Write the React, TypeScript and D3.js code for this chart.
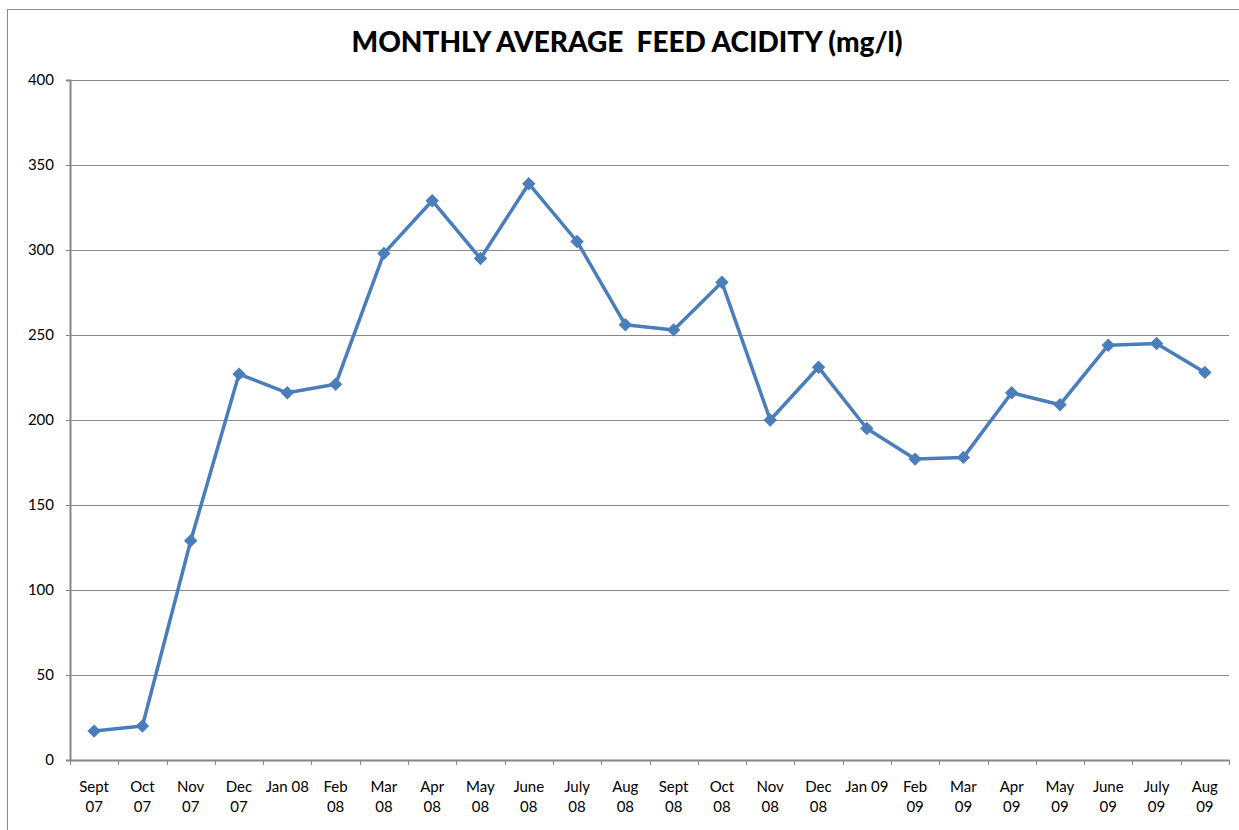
import { useEffect, useRef } from "react";
import * as d3 from "d3";

const W = 1239;
const H = 830;
const marginLeft = 70;
const marginRight = 10;
const marginTop = 80;
const marginBottom = 70;

const months = [
  "Sept 07", "Oct 07", "Nov 07", "Dec 07", "Jan 08", "Feb 08", "Mar 08", "Apr 08",
  "May 08", "June 08", "July 08", "Aug 08", "Sept 08", "Oct 08", "Nov 08", "Dec 08",
  "Jan 09", "Feb 09", "Mar 09", "Apr 09", "May 09", "June 09", "July 09", "Aug 09",
];
// two-line tick labels as drawn in the original
const tickLines = [
  ["Sept", "07"], ["Oct", "07"], ["Nov", "07"], ["Dec", "07"], ["Jan 08"], ["Feb", "08"],
  ["Mar", "08"], ["Apr", "08"], ["May", "08"], ["June", "08"], ["July", "08"], ["Aug", "08"],
  ["Sept", "08"], ["Oct", "08"], ["Nov", "08"], ["Dec", "08"], ["Jan 09"], ["Feb", "09"],
  ["Mar", "09"], ["Apr", "09"], ["May", "09"], ["June", "09"], ["July", "09"], ["Aug", "09"],
];
const acidity = [
  17, 20, 129, 227, 216, 221, 298, 329, 295, 339, 305, 256,
  253, 281, 200, 231, 195, 177, 178, 216, 209, 244, 245, 228,
];
const yTicks = [0, 50, 100, 150, 200, 250, 300, 350, 400];

const font = "Lato, 'Open Sans', sans-serif";

export default function App() {
  const ref = useRef<SVGSVGElement>(null);

  useEffect(() => {
    const svg = d3.select(ref.current);
    svg.selectAll("*").remove();

    const x = d3
      .scaleBand()
      .domain(months)
      .range([marginLeft, W - marginRight])
      .padding(0);
    const y = d3
      .scaleLinear()
      .domain([0, 400])
      .range([H - marginBottom, marginTop]);

    // outer chart border
    svg
      .append("rect")
      .attr("x", 7.5)
      .attr("y", 9.5)
      .attr("width", W)
      .attr("height", H)
      .attr("fill", "white")
      .attr("stroke", "#8c8c8c")
      .attr("stroke-width", 1);

    // gridlines
    svg
      .append("g")
      .selectAll("line")
      .data(yTicks.filter((t) => t > 0))
      .join("line")
      .attr("x1", marginLeft)
      .attr("x2", W - marginRight)
      .attr("y1", (d) => Math.round(y(d)) + 0.5)
      .attr("y2", (d) => Math.round(y(d)) + 0.5)
      .attr("stroke", "#8a8a8a")
      .attr("stroke-width", 1);

    // y axis
    const yAxis = d3
      .axisLeft(y)
      .tickValues(yTicks)
      .tickSize(4)
      .tickPadding(12)
      .tickFormat(d3.format("d"));
    const gy = svg
      .append("g")
      .attr("transform", `translate(${marginLeft},0)`)
      .call(yAxis);
    gy.select(".domain").attr("stroke", "#868686").attr("stroke-width", 2);
    gy.selectAll(".tick line").attr("stroke", "#868686");
    gy.selectAll("text")
      .attr("font-family", font)
      .attr("font-size", 15)
      .attr("fill", "#000");

    // x axis
    const xAxis = d3.axisBottom(x).tickSize(0).tickFormat(() => "");
    const gx = svg
      .append("g")
      .attr("transform", `translate(0,${H - marginBottom})`)
      .call(xAxis);
    gx.select(".domain").attr("stroke", "#868686").attr("stroke-width", 2);
    gx.selectAll(".tick").remove();

    // category boundary ticks
    const bounds = months.map((m) => x(m)!).concat([W - marginRight]);
    svg
      .append("g")
      .selectAll("line")
      .data(bounds)
      .join("line")
      .attr("x1", (d) => Math.round(d) + 0.5)
      .attr("x2", (d) => Math.round(d) + 0.5)
      .attr("y1", H - marginBottom)
      .attr("y2", H - marginBottom + 5)
      .attr("stroke", "#868686")
      .attr("stroke-width", 1);

    // x labels
    const labels = svg
      .append("g")
      .selectAll("text")
      .data(months)
      .join("text")
      .attr("x", (d) => x(d)! + x.bandwidth() / 2)
      .attr("y", H - marginBottom + 32)
      .attr("text-anchor", "middle")
      .attr("font-family", font)
      .attr("font-size", 15)
      .attr("fill", "#000");
    labels
      .selectAll("tspan")
      .data((d, i) => tickLines[i].map((t) => ({ t, x: x(d)! + x.bandwidth() / 2 })))
      .join("tspan")
      .attr("x", (d) => d.x)
      .attr("dy", (_, j) => (j === 0 ? 0 : 20))
      .text((d) => d.t);

    // line
    const line = d3
      .line<number>()
      .x((_, i) => x(months[i])! + x.bandwidth() / 2)
      .y((d) => y(d));
    svg
      .append("path")
      .attr("d", line(acidity))
      .attr("fill", "none")
      .attr("stroke", "#4a7ebb")
      .attr("stroke-width", 3.5)
      .attr("stroke-linejoin", "round");

    // diamond markers
    const diamond = d3.symbol().type(d3.symbolDiamond2).size(115);
    svg
      .append("g")
      .selectAll("path")
      .data(acidity)
      .join("path")
      .attr("d", diamond)
      .attr(
        "transform",
        (d, i) => `translate(${x(months[i])! + x.bandwidth() / 2},${y(d)})`
      )
      .attr("fill", "#4a7ebb");

    // title
    svg
      .append("text")
      .attr("x", 627)
      .attr("y", 52)
      .attr("text-anchor", "middle")
      .attr("font-family", font)
      .attr("font-weight", 900)
      .attr("font-size", 28)
      .attr("fill", "#000")
      .text("MONTHLY AVERAGE  FEED ACIDITY (mg/l)")
      .style("white-space", "pre");
  }, []);

  return (
    <div style={{ position: "fixed", left: 0, top: 0, width: W, height: H, background: "white" }}>
      <svg ref={ref} width={W} height={H} viewBox={`0 0 ${W} ${H}`} />
    </div>
  );
}
